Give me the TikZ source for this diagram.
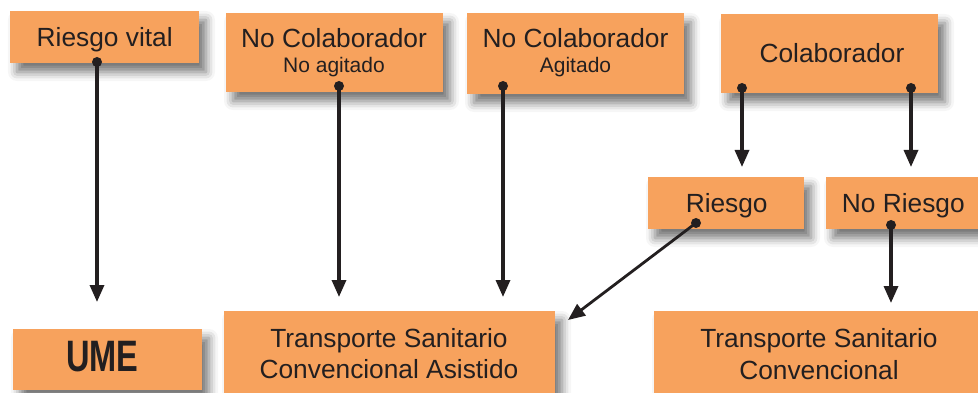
\documentclass[tikz,border=0pt]{standalone}
\usepackage{fontspec}
\setmainfont{Liberation Sans}
\usetikzlibrary{arrows.meta,shadows.blur}
\definecolor{boxor}{RGB}{247,162,93}
\definecolor{ink}{RGB}{35,31,32}
\begin{document}
\begin{tikzpicture}[x=1pt,y=-1pt,
 box/.style={fill=boxor, draw=none, inner sep=0pt,
   blur shadow={shadow xshift=7pt, shadow yshift=-9pt, shadow blur radius=9pt, shadow opacity=55}},
 txt/.style={anchor=base, inner sep=0pt, text=ink, font=\fontsize{26.3}{31}\selectfont},
 subtxt/.style={anchor=base, inner sep=0pt, text=ink, font=\fontsize{21}{25}\selectfont},
 conn/.style={draw=ink, line width=3.3pt, -{Triangle[length=17pt,width=14pt]}},
 dotfill/.style={fill=ink}
]
\useasboundingbox (0,0) rectangle (978,393);

% boxes
\node[box, minimum width=189pt, minimum height=52pt] (rv) at (104.5,37) {};
\node[box, minimum width=217pt, minimum height=79pt] (nc1) at (334.5,52.5) {};
\node[box, minimum width=217pt, minimum height=81pt] (nc2) at (575.5,53.5) {};
\node[box, minimum width=217pt, minimum height=79pt] (col) at (829.5,53.5) {};
\node[box, minimum width=156pt, minimum height=52pt] (ri) at (726,203) {};
\node[box, minimum width=154pt, minimum height=52pt] (nr) at (903,203) {};
\node[box, minimum width=189pt, minimum height=61pt] (ume) at (107.5,359.5) {};
\node[box, minimum width=331pt, minimum height=84pt] (tsca) at (389.5,353) {};
\node[box, minimum width=326pt, minimum height=84pt] (tsc) at (817,353) {};

% texts
\node[txt] (rvt) at (104.7,46.7) {Riesgo vital};
\node[txt] (nc1t) at (334,48) {No Colaborador};
\node[subtxt] (nc1s) at (334,73) {No agitado};
\node[txt] (nc2t) at (575.5,48) {No Colaborador};
\node[subtxt] (nc2s) at (575.5,73) {Agitado};
\node[txt] (colt) at (832,63) {Colaborador};
\node[txt] (rit) at (726.7,213) {Riesgo};
\node[txt] (nrt) at (903.3,213) {No Riesgo};
\node[anchor=base, inner sep=0pt, text=ink, font=\fontsize{44}{50}\bfseries\selectfont] (umet) at (102.5,371) {\scalebox{0.74}[1]{UME}};
\node[txt] (tsca1) at (389,347) {Transporte Sanitario};
\node[txt] (tsca2) at (389,378.5) {Convencional Asistido};
\node[txt] (tsc1) at (819,347) {Transporte Sanitario};
\node[txt] (tsc2) at (819,379.5) {Convencional};

% connector points
\coordinate (rvd) at (97,62);   \coordinate (rve) at (97,302);
\coordinate (nc1d) at (339,86); \coordinate (nc1e) at (339,297);
\coordinate (nc2d) at (503,86); \coordinate (nc2e) at (503,297);
\coordinate (cold1) at (742,88); \coordinate (cole1) at (742,167);
\coordinate (cold2) at (911,88); \coordinate (cole2) at (911,167);
\coordinate (rid) at (696,223); \coordinate (rie) at (568,320);
\coordinate (nrd) at (891,225); \coordinate (nre) at (891,303);

\draw[conn] (rvd) -- (rve);
\draw[conn] (nc1d) -- (nc1e);
\draw[conn] (nc2d) -- (nc2e);
\draw[conn] (cold1) -- (cole1);
\draw[conn] (cold2) -- (cole2);
\draw[conn, line width=2.8pt] (rid) -- (rie);
\draw[conn] (nrd) -- (nre);

\foreach \d in {rvd,nc1d,nc2d,cold1,cold2,rid,nrd}
  \fill[dotfill] (\d) circle (5pt);
\end{tikzpicture}
\end{document}
